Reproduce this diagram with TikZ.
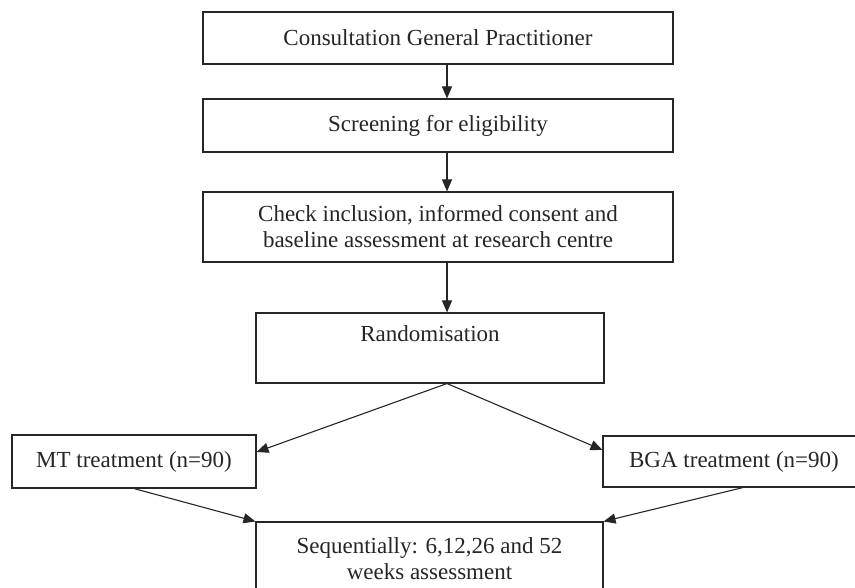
\documentclass[tikz,border=0pt]{standalone}
\usepackage{fontspec}
\setmainfont{Liberation Serif}
\usetikzlibrary{arrows.meta}
\begin{document}
\begin{tikzpicture}[x=1pt,y=-1pt,
  box/.style={draw=black!85, line width=1.1pt, rectangle, inner sep=0pt, align=center,
    font=\fontsize{23}{26}\selectfont, text=black!85},
  arr/.style={draw=black!85, line width=1.1pt, -{Triangle[length=12pt,width=10pt]}}]
\useasboundingbox (0,0) rectangle (855,588);
\clip (0,0) rectangle (855,588);
\fill[white] (0,0) rectangle (855,588);

\node[box, minimum width=470pt, minimum height=52pt] (b1) at (438,38) {Consultation General Practitioner};
\node[box, minimum width=470pt, minimum height=53pt] (b2) at (438,125.5) {Screening for eligibility};
\node[box, minimum width=470pt, minimum height=70pt] (b3) at (438,227) {Check inclusion, informed consent and\\baseline assessment at research centre};
\node[box, minimum width=348pt, minimum height=70pt, text height=18pt, text depth=30pt] (rand) at (430,348) {Randomisation};
\node[box, minimum width=244pt, minimum height=53pt] (mt) at (134,461.5) {MT treatment (n=90)};
\node[box, minimum width=262pt, minimum height=51pt] (bga) at (734,461.5) {BGA treatment (n=90)};
\node[box, minimum width=347pt, minimum height=74pt] (seq) at (429.5,559) {Sequentially: 6,12,26 and 52\\weeks assessment};

\draw[arr] ([xshift=9pt]b1.south) -- ([xshift=9pt]b2.north);
\draw[arr] ([xshift=9pt]b2.south) -- ([xshift=9pt]b3.north);
\draw[arr] ([xshift=9pt]b3.south) -- ([xshift=17pt]rand.north);
\draw[arr] ([xshift=17pt]rand.south) -- ([yshift=9.5pt]mt.east);
\draw[arr] ([xshift=17pt]rand.south) -- ([yshift=11.5pt]bga.west);
\draw[arr] (mt.south) -- (seq.north west);
\draw[arr] ([xshift=9pt]bga.south) -- (seq.north east);
\end{tikzpicture}
\end{document}
